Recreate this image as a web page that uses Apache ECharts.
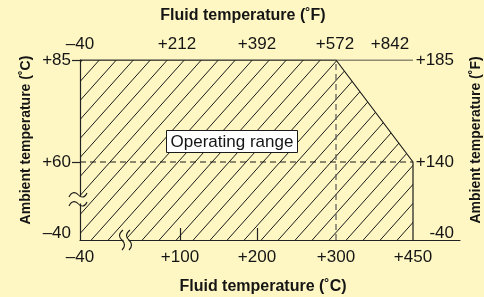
<!DOCTYPE html>
<html>
<head>
<meta charset="utf-8">
<script src="https://cdn.jsdelivr.net/npm/echarts@6/dist/echarts.min.js"></script>
<style>
  html, body { margin: 0; padding: 0; background: #fef7c3; }
  #chart { width: 484px; height: 297px; }
</style>
</head>
<body>
<div id="chart"></div>
<script>
// broken (non-linear) axes: each tick value sits at a given offset along the axis
const fluidC = [-40, 100, 200, 300, 450]
const fluidPos = [0, 100, 177, 256, 333]
const fluidLabelsC = ['\u201340', '+100', '+200', '+300', '+450']
const fluidLabelsF = ['\u201340', '+212', '+392', '+572', '+842']
const fluidPosF = [0, 97, 177, 255, 310]

const ambientC = [-40, 60, 85]
const ambientPos = [0, 78, 180]
const ambientLabelsC = ['\u201340', '+60', '+85']
const ambientLabelsF = ['-40', '+140', '+185']
const ambientLabelPos = [7, 78, 180]

// operating range boundary (deg C)
const rangeFluid = [-40, 300, 450, 450]
const rangeAmbient = [85, 85, 60, -40]

const bg = '#fef7c3'
const ink = '#151515'
const font = '"Liberation Sans", Arial, sans-serif'

function mapPos(v, vals, pos) {
    for (let i = 0; i < vals.length - 1; i++) {
        if (v <= vals[i + 1]) {
            return pos[i] + (v - vals[i]) / (vals[i + 1] - vals[i]) * (pos[i + 1] - pos[i])
        }
    }
    return pos[pos.length - 1]
}
const px = v => mapPos(v, fluidC, fluidPos)
const py = v => mapPos(v, ambientC, ambientPos)

function hatch() {
    const w = 17, h = 19
    const c = document.createElement('canvas')
    c.width = w
    c.height = h
    const ctx = c.getContext('2d')
    ctx.strokeStyle = '#1a1a1a'
    ctx.lineWidth = 1
    for (const dx of [-w, 0, w]) {
        ctx.beginPath()
        ctx.moveTo(dx - w, 2 * h)
        ctx.lineTo(dx + 2 * w, -h)
        ctx.stroke()
    }
    return c
}

function labelAt(posArr, labels) {
    return function (val) {
        const i = posArr.findIndex(p => Math.abs(p - val) < 0.5)
        return i >= 0 ? labels[i] : ''
    }
}

// wavy break mark made of two bezier halves
function wave(x0, y0, vertical) {
    const s = { fill: null, stroke: '#1a1a1a', lineWidth: 1.1 }
    if (!vertical) {
        return [
            { type: 'bezierCurve', z: 11, style: s, shape: { x1: x0, y1: y0, cpx1: x0 + 3, cpy1: y0 - 6, cpx2: x0 + 7, cpy2: y0 - 5, x2: x0 + 9.5, y2: y0 - 2 } },
            { type: 'bezierCurve', z: 11, style: s, shape: { x1: x0 + 9.5, y1: y0 - 2, cpx1: x0 + 12, cpy1: y0 + 1, cpx2: x0 + 16, cpy2: y0 + 1, x2: x0 + 18, y2: y0 - 4 } }
        ]
    }
    return [
        { type: 'bezierCurve', z: 11, style: s, shape: { x1: x0, y1: y0, cpx1: x0 - 5, cpy1: y0 + 4, cpx2: x0 - 4, cpy2: y0 + 7, x2: x0 - 1, y2: y0 + 10 } },
        { type: 'bezierCurve', z: 11, style: s, shape: { x1: x0 - 1, y1: y0 + 10, cpx1: x0 + 2, cpy1: y0 + 13, cpx2: x0 + 3, cpy2: y0 + 16, x2: x0 - 1, y2: y0 + 20 } }
    ]
}

const rangeData = rangeFluid.map((f, i) => [px(f), py(rangeAmbient[i])])
const topY = py(85)

let chart = echarts.init(document.getElementById('chart'))
chart.setOption({
    backgroundColor: bg,
    animation: false,
    textStyle: { fontFamily: font },
    grid: { left: 80, top: 60, width: 380, height: 180 },
    xAxis: [
        {
            type: 'value',
            min: 0,
            max: 380,
            position: 'bottom',
            splitLine: { show: false },
            axisLine: { show: true, lineStyle: { color: '#222', width: 1.2 } },
            axisTick: {
                show: true,
                inside: true,
                length: 12,
                customValues: [px(100), px(200)],
                lineStyle: { color: '#222', width: 1.2 }
            },
            axisLabel: {
                customValues: fluidPos,
                formatter: labelAt(fluidPos, fluidLabelsC),
                color: ink,
                fontSize: 17,
                margin: 9,
                fontFamily: font
            }
        },
        {
            type: 'value',
            min: 0,
            max: 380,
            position: 'top',
            splitLine: { show: false },
            axisLine: { show: false },
            axisTick: { show: false },
            axisLabel: {
                customValues: fluidPosF,
                formatter: labelAt(fluidPosF, fluidLabelsF),
                color: ink,
                fontSize: 17,
                margin: 7,
                fontFamily: font
            }
        }
    ],
    yAxis: [
        {
            type: 'value',
            min: 0,
            max: 180,
            position: 'left',
            splitLine: { show: false },
            axisLine: { show: true, lineStyle: { color: '#222', width: 1.2 } },
            axisTick: {
                show: true,
                length: 8,
                customValues: [py(60), py(85)],
                lineStyle: { color: '#222', width: 1.2 }
            },
            axisLabel: {
                customValues: ambientLabelPos,
                formatter: labelAt(ambientLabelPos, ambientLabelsC),
                color: ink,
                fontSize: 17,
                margin: 9,
                fontFamily: font
            }
        },
        {
            type: 'value',
            min: 0,
            max: 180,
            position: 'right',
            offset: -6,
            splitLine: { show: false },
            axisLine: { show: false },
            axisTick: { show: false },
            axisLabel: {
                customValues: ambientLabelPos,
                formatter: labelAt(ambientLabelPos, ambientLabelsF),
                color: ink,
                fontSize: 17,
                margin: 0,
                align: 'right',
                fontFamily: font
            }
        }
    ],
    series: [
        {
            name: 'Operating range',
            type: 'line',
            symbol: 'none',
            data: rangeData,
            lineStyle: { color: '#1a1a1a', width: 1.2 },
            areaStyle: { color: { image: hatch(), repeat: 'repeat' }, opacity: 1 },
            z: 2
        },
        {
            type: 'line',
            symbol: 'none',
            data: [[px(-40), topY], [px(450), topY]],
            lineStyle: { color: '#222', width: 1.2 },
            z: 3
        },
        {
            type: 'line',
            symbol: 'none',
            data: [[px(300), py(-40)], [px(300), py(85)]],
            lineStyle: { color: '#555', width: 1.2, type: [6, 4] },
            z: 3
        },
        {
            type: 'line',
            symbol: 'none',
            data: [[px(-40), py(60)], [px(450), py(60)]],
            lineStyle: { color: '#1a1a1a', width: 1.2, type: [6, 4] },
            z: 3
        }
    ],
    graphic: [
        // axis breaks
        { type: 'rect', shape: { x: 78, y: 196.5, width: 4, height: 7 }, style: { fill: bg }, z: 10 },
        ...wave(69, 197, false),
        ...wave(69, 206, false),
        { type: 'rect', shape: { x: 123.5, y: 238, width: 5, height: 4 }, style: { fill: bg }, z: 10 },
        ...wave(123, 230, true),
        ...wave(130, 230, true),
        // label box
        { type: 'rect', z: 12, shape: { x: 166.5, y: 130.5, width: 131, height: 22 }, style: { fill: '#fff', stroke: '#1a1a1a', lineWidth: 1 } },
        { type: 'text', z: 13, style: { x: 232, y: 142, text: 'Operating range', fill: ink, font: '17px ' + font, align: 'center', verticalAlign: 'middle' } },
        // axis titles
        { type: 'text', z: 12, style: { x: 243, y: 16, text: 'Fluid temperature (\u02daF)', fill: ink, font: 'bold 16px ' + font, align: 'center', verticalAlign: 'middle' } },
        { type: 'text', z: 12, style: { x: 263, y: 287, text: 'Fluid temperature (\u02daC)', fill: ink, font: 'bold 16px ' + font, align: 'center', verticalAlign: 'middle' } },
        { type: 'text', z: 12, x: 26, y: 140, rotation: Math.PI / 2, style: { x: 0, y: 0, text: 'Ambient temperature (\u02daC)', fill: ink, font: 'bold 14px ' + font, align: 'center', verticalAlign: 'middle' } },
        { type: 'text', z: 12, x: 476, y: 140, rotation: Math.PI / 2, style: { x: 0, y: 0, text: 'Ambient temperature (\u02daF)', fill: ink, font: 'bold 14px ' + font, align: 'center', verticalAlign: 'middle' } }
    ]
})
</script>
</body>
</html>
